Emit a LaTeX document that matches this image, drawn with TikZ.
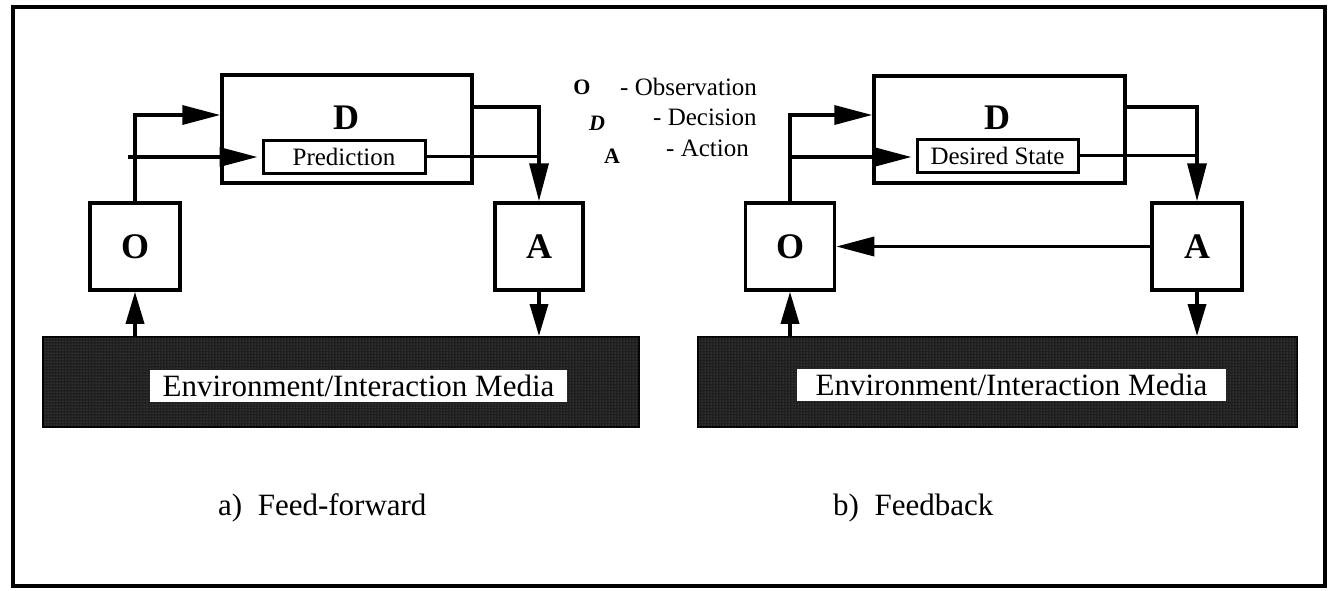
\documentclass[tikz,border=0pt]{standalone}
\usepackage{fontspec}
\setmainfont{Liberation Serif}
\usetikzlibrary{arrows.meta,patterns}

\begin{document}
\begin{tikzpicture}[x=1pt,y=-1pt,
  box/.style={draw, line width=3.5pt, fill=white, rectangle, inner sep=0pt},
  subbox/.style={draw, line width=3pt, fill=white, rectangle, inner sep=0pt,
    font=\fontsize{25}{28}\selectfont},
  envbar/.style={draw, line width=2pt, fill=black!88, rectangle, inner sep=0pt,
    postaction={pattern=dots, pattern color=black!55}},
  envlabel/.style={fill=white, rectangle, inner sep=0pt,
    font=\fontsize{31}{34}\selectfont},
  bigletter/.style={inner sep=0pt, font=\fontsize{36}{40}\selectfont\bfseries},
  legletter/.style={inner sep=0pt, font=\fontsize{22}{24}\selectfont\bfseries},
  legtext/.style={inner sep=0pt, anchor=west, font=\fontsize{25}{28}\selectfont},
  caption/.style={inner sep=0pt, anchor=west, font=\fontsize{31}{34}\selectfont},
  ln/.style={line width=3.5pt},
  arr/.style={line width=3.5pt, -{Triangle[length=38pt,width=19pt]}},
  sarr/.style={line width=3.5pt, -{Triangle[length=32pt,width=18pt]}}
]
\useasboundingbox (0,0) rectangle (1332,590);

% outer frame
\draw[line width=4pt] (13,7) rectangle (1325,586);

% ---------- a) feed-forward ----------
\node[envbar, minimum width=596pt, minimum height=90pt] (EL) at (341,382) {};
\node[envlabel, minimum width=417pt, minimum height=32pt] (ELt) at (358.5,386) {Environment/Interaction Media};

\node[box, minimum width=250pt, minimum height=108pt] (DL) at (347,129) {};
\node[bigletter] (DLlab) at (346,118) {D};
\node[subbox, minimum width=162pt, minimum height=33pt] (PL) at (344,156.5) {Prediction};

\node[box, minimum width=90pt, minimum height=87pt] (OL) at (135,246.5) {};
\node[bigletter] (OLlab) at (OL) {O};
\node[box, minimum width=88pt, minimum height=87pt] (AL) at (539,246.5) {};
\node[bigletter] (ALlab) at (AL) {A};

\coordinate (kL1) at (135,115);
\coordinate (kL2) at (128,157);
\coordinate (kL3) at (539,107);

\draw[arr] (OL.north) -- (kL1) -- (kL1 -| DL.west);
\draw[arr, shorten >=4pt] (kL2) -- (kL2 -| PL.west);
\draw[arr] (kL3 -| DL.east) -- (kL3) -- (AL.north);
\draw[ln] (PL.east) -- (PL.east -| kL3);
\draw[sarr] (AL.south) -- (AL.south |- EL.north);
\draw[sarr] (OL.south |- EL.north) -- (OL.south);

\node[caption] (capA) at (218,508) {a)~~Feed-forward};

% ---------- legend ----------
\node[legletter] (legO) at (582,87) {O};
\node[legtext] (legOt) at (620,87) {- Observation};
\node[legletter, font=\fontsize{22}{24}\selectfont\bfseries\itshape] (legD) at (597,123) {D};
\node[legtext] (legDt) at (653,117) {- Decision};
\node[legletter] (legA) at (612,156) {A};
\node[legtext] (legAt) at (666,148) {- Action};

% ---------- b) feedback ----------
\node[envbar, minimum width=599pt, minimum height=90pt] (ER) at (997.5,382) {};
\node[envlabel, minimum width=429pt, minimum height=32pt] (ERt) at (1011.5,385) {Environment/Interaction Media};

\node[box, minimum width=251pt, minimum height=107pt] (DR) at (999.5,129.5) {};
\node[bigletter] (DRlab) at (997,118) {D};
\node[subbox, minimum width=161pt, minimum height=33pt] (SR) at (997.5,155.5) {Desired State};

\node[box, minimum width=89pt, minimum height=87pt] (OR) at (790,246.5) {};
\node[bigletter] (ORlab) at (OR) {O};
\node[box, minimum width=90pt, minimum height=87pt] (AR) at (1197,246.5) {};
\node[bigletter] (ARlab) at (AR) {A};

\coordinate (kR1) at (790,115);
\coordinate (kR2) at (790,157);
\coordinate (kR3) at (1197,107);

\draw[arr] (OR.north) -- (kR1) -- (kR1 -| DR.west);
\draw[arr, shorten >=4pt] (kR2) -- (kR2 -| SR.west);
\draw[arr] (kR3 -| DR.east) -- (kR3) -- (AR.north);
\draw[ln] (SR.east) -- (SR.east -| kR3);
\draw[arr] (AR.west) -- (OR.east);
\draw[sarr] (AR.south) -- (AR.south |- ER.north);
\draw[sarr] (OR.south |- ER.north) -- (OR.south);

\node[caption] (capB) at (833,508) {b)~~Feedback};
\end{tikzpicture}
\end{document}
